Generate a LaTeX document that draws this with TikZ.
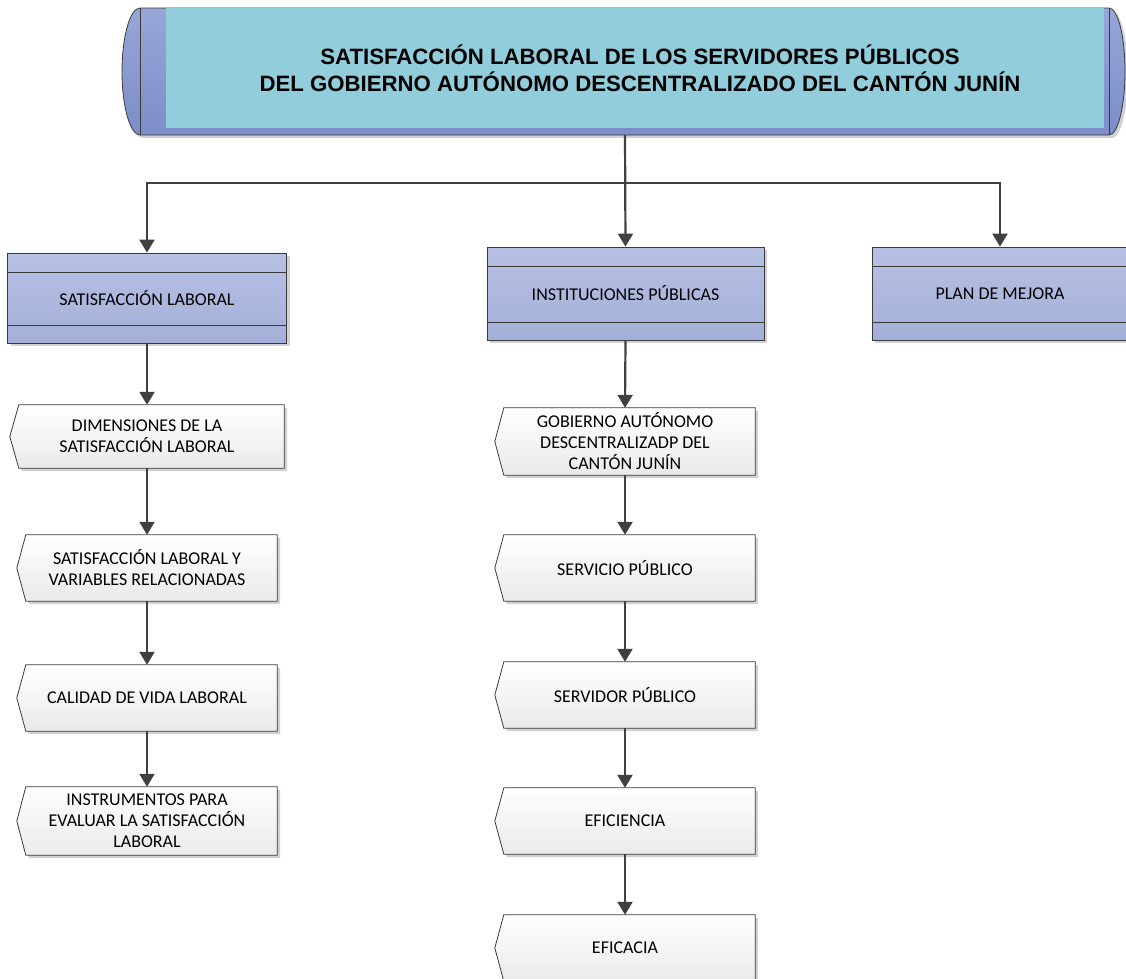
\documentclass[tikz,border=0pt]{standalone}
\usepackage{fontspec}
\setmainfont{Carlito}
\newfontfamily\titlefont{Liberation Sans}
\usetikzlibrary{arrows.meta,shadows,backgrounds}
\definecolor{edge}{HTML}{3A3A3A}
\definecolor{linkgray}{HTML}{404040}
\definecolor{frametop}{HTML}{98A6D7}
\definecolor{framebot}{HTML}{7C8DC8}
\definecolor{titlecore}{HTML}{92CDDC}
\definecolor{bluetop}{HTML}{B7C1E4}
\definecolor{bluebot}{HTML}{A4AFD9}
\definecolor{chevbot}{HTML}{EAEAEA}
\tikzset{%
  >={Triangle[width=15pt,length=13pt]},
  % Specifications for style of nodes:
            base/.style = {rectangle, text centered, align=center, text=black,
                           font=\fontsize{18}{21}\selectfont},
         shade/.style = {drop shadow={shadow xshift=3pt, shadow yshift=-3pt,
                           fill=black, opacity=0.18}},
       bluebox/.style = {base, draw=edge, line width=0.8pt, shade,
                           top color=bluetop, bottom color=bluebot},
       chevbox/.style = {base, minimum width=260pt, minimum height=66pt},
      chevfill/.style = {draw=edge, line width=0.8pt, shade,
                           top color=white, bottom color=chevbot},
    titleframe/.style = {draw=edge, line width=0.8pt, shade,
                           top color=frametop, bottom color=framebot},
     titletext/.style = {align=center,
                           font=\titlefont\bfseries\fontsize{22.2}{27}\selectfont},
          link/.style = {->, draw=linkgray, line width=2.2pt},
}

\begin{document}
\begin{tikzpicture}[x=1pt, y=-1pt]
  \useasboundingbox (0,0) rectangle (1126,978);

  % Title scroll
  \draw[titleframe] (140,8) -- (1109,8)
      arc[start angle=270, end angle=450, x radius=16, y radius=63.5]
      -- (140,135)
      arc[start angle=90, end angle=270, x radius=18, y radius=63.5] -- cycle;
  \draw[edge, line width=0.8pt] (140,8) -- (140,135) (1109,8) -- (1109,135);
  \fill[titlecore] (166,8) rectangle (1104,128);
  \node (title) [titletext] at (640,68.5)
      {SATISFACCIÓN LABORAL DE LOS SERVIDORES PÚBLICOS\\
       DEL GOBIERNO AUTÓNOMO DESCENTRALIZADO DEL CANTÓN JUNÍN};
  \coordinate (drop) at (625,135);
  \coordinate (bus)  at (625,183);

  % Specification of nodes (position, etc.)
  \node (satlab) [bluebox, minimum width=279pt, minimum height=90pt] at (147,298) {SATISFACCIÓN LABORAL};
  \node (inst)   [bluebox, minimum width=277pt, minimum height=93pt] at (625.5,293.5) {INSTITUCIONES PÚBLICAS};
  \node (plan)   [bluebox, minimum width=256pt, minimum height=93pt] at (1000,293.5) {PLAN DE MEJORA};

  \node (dim) [chevbox, minimum width=274pt, minimum height=63pt] at (147,436.5) {DIMENSIONES DE LA\\SATISFACCIÓN LABORAL};
  \node (var) [chevbox] at (147,568) {SATISFACCIÓN LABORAL Y\\VARIABLES RELACIONADAS};
  \node (cal) [chevbox] at (147,698) {CALIDAD DE VIDA LABORAL};
  \node (ins) [chevbox, minimum height=68pt] at (147,821) {INSTRUMENTOS PARA\\EVALUAR LA SATISFACCIÓN\\LABORAL};

  \node (gad) [chevbox, minimum height=67pt] at (625,441.5) {GOBIERNO AUTÓNOMO\\DESCENTRALIZADP DEL\\CANTÓN JUNÍN};
  \node (sep) [chevbox] at (625,568) {SERVICIO PÚBLICO};
  \node (spu) [chevbox] at (625,695) {SERVIDOR PÚBLICO};
  \node (efi) [chevbox] at (625,821) {EFICIENCIA};
  \node (efa) [chevbox] at (625,948) {EFICACIA};

  \begin{scope}[on background layer]
    \foreach \n in {dim,var,cal,ins,gad,sep,spu,efi,efa}
      \draw[chevfill] ([xshift=9pt]\n.north west) -- (\n.north east) -- (\n.south east)
          -- ([xshift=9pt]\n.south west) -- (\n.west) -- cycle;
  \end{scope}

  % bands in the blue boxes
  \foreach \n in {satlab,inst,plan}
    \draw[edge, line width=0.8pt] ([yshift=-20pt]\n.north west) -- ([yshift=-20pt]\n.north east)
        ([yshift=18pt]\n.south west) -- ([yshift=18pt]\n.south east);

  % Connectors
  \draw[link]  (drop) -- (inst.north);
  \draw[link]  (bus) -| (satlab.north);
  \draw[link]  (bus) -| (plan.north);

  \draw[link]  (satlab.south) -- (dim.north);
  \draw[link]  (dim.south) -- (var.north);
  \draw[link]  (var.south) -- (cal.north);
  \draw[link]  (cal.south) -- (ins.north);

  \draw[link]  (inst.south) -- (gad.north);
  \draw[link]  (gad.south) -- (sep.north);
  \draw[link]  (sep.south) -- (spu.north);
  \draw[link]  (spu.south) -- (efi.north);
  \draw[link]  (efi.south) -- (efa.north);
\end{tikzpicture}
\end{document}
